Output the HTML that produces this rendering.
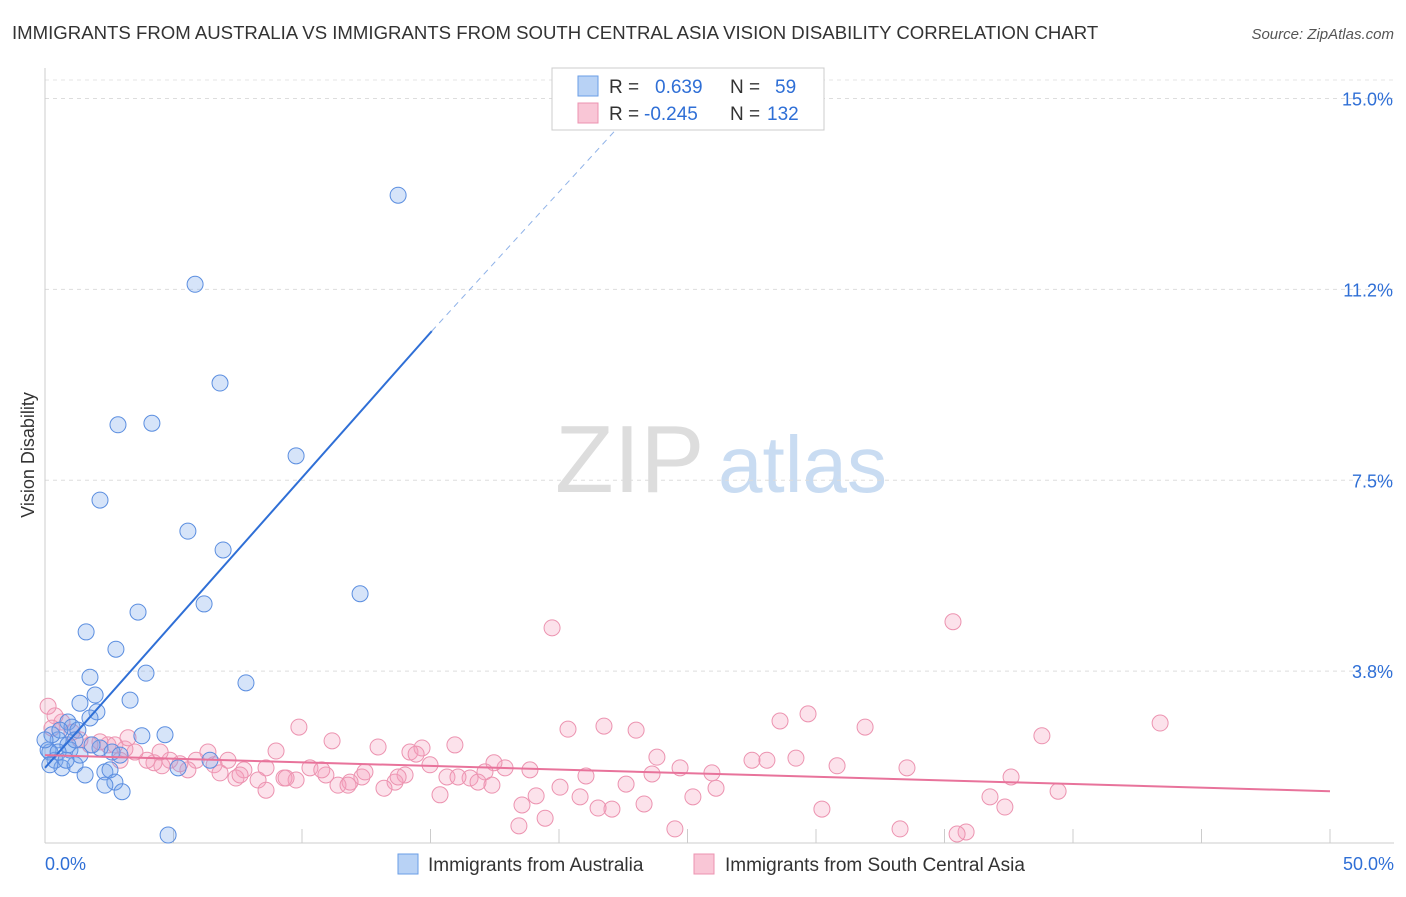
<!DOCTYPE html>
<html><head><meta charset="utf-8">
<style>
body{margin:0;background:#fff;font-family:"Liberation Sans",sans-serif;}
svg text{font-family:"Liberation Sans",sans-serif;}
</style></head>
<body>
<svg id="chart" width="1406" height="892" xmlns="http://www.w3.org/2000/svg">
<text x="12" y="39" font-size="18.6" fill="#333">IMMIGRANTS FROM AUSTRALIA VS IMMIGRANTS FROM SOUTH CENTRAL ASIA VISION DISABILITY CORRELATION CHART</text>
<text x="1394" y="39" font-size="15" fill="#555" font-style="italic" text-anchor="end">Source: ZipAtlas.com</text>
<text x="0" y="0" transform="translate(34,455) rotate(-90)" font-size="18" fill="#333" text-anchor="middle">Vision Disability</text>
<g>
<text x="555" y="492" font-size="96" fill="#ddd" font-family="Liberation Serif,serif">ZIP</text>
<text x="718" y="492" font-size="80" fill="#c9dcf2">atlas</text>
</g>
<g id="grid"></g>
<g id="axes"></g>
<g id="series"></g>
<g>
<rect x="552" y="68" width="272" height="62" fill="#fff" stroke="#ccc"/>
<rect x="578" y="76" width="20" height="20" fill="#b8d2f5" stroke="#6a9ee6"/>
<rect x="578" y="103" width="20" height="20" fill="#f9c6d6" stroke="#ec93b0"/>
<text x="609" y="93" font-size="19" fill="#333">R =</text>
<text x="655" y="93" font-size="19" fill="#2f6fd6">0.639</text>
<text x="730" y="93" font-size="19" fill="#333">N =</text>
<text x="775" y="93" font-size="19" fill="#2f6fd6">59</text>
<text x="609" y="120" font-size="19" fill="#333">R =</text>
<text x="644" y="120" font-size="19" fill="#2f6fd6">-0.245</text>
<text x="730" y="120" font-size="19" fill="#333">N =</text>
<text x="767" y="120" font-size="19" fill="#2f6fd6">132</text>
</g>
<g>
<rect x="398" y="854" width="20" height="20" fill="#b8d2f5" stroke="#6a9ee6"/>
<text x="428" y="871" font-size="19" fill="#333">Immigrants from Australia</text>
<rect x="694" y="854" width="20" height="20" fill="#f9c6d6" stroke="#ec93b0"/>
<text x="725" y="871" font-size="19" fill="#333">Immigrants from South Central Asia</text>
</g>
</svg>
<script>
const yTicks=[3.75,7.5,11.25,15];
const yTickLabels=["3.8%","7.5%","11.2%","15.0%"];
const xTicks=[0,5,10,15,20,25,30,35,40,45,50];
const blueX=[13.74,5.84,6.81,2.84,4.16,9.77,2.14,5.56,6.93,6.19,3.62,12.26,1.60,2.76,3.93,7.82,1.75,1.95,1.36,3.31,2.02,1.75,0.89,1.05,0.51,0.89,0.19,0.39,0.66,1.17,1.56,2.33,2.53,2.72,3.00,2.33,3.77,4.67,5.18,4.79,0.27,0.58,0.12,0.97,0.51,2.14,2.61,1.36,0.82,0,1.83,1.28,2.92,6.42,0.19,1.17];
const blueY=[13.10,11.35,9.41,8.59,8.62,7.98,7.11,6.50,6.13,5.07,4.91,5.27,4.52,4.18,3.71,3.52,3.63,3.28,3.12,3.18,2.95,2.83,2.75,2.65,2.40,2.30,2.16,2.00,1.85,1.91,1.71,1.77,1.81,1.57,1.38,1.51,2.48,2.50,1.85,0.53,2.50,2.59,2.20,2.20,2.16,2.24,2.16,2.10,2.00,2.40,2.30,2.59,2.10,2.00,1.91,2.40];
const pinkX=[19.73,35.33,43.39,29.69,31.91,28.60,21.75,23.00,20.35,38.79,9.88,11.17,12.96,14.20,14.67,15.95,23.81,27.51,29.22,28.09,30.82,33.54,37.59,39.42,36.77,37.35,35.84,35.49,33.27,30.23,26.11,25.21,24.51,23.31,22.06,21.52,20.82,20.04,19.46,18.44,18.56,19.11,17.90,17.47,17.12,16.54,15.37,15.64,14.98,14.01,13.62,13.19,12.33,11.87,11.40,10.93,10.31,9.77,9.30,8.99,8.60,8.29,7.74,7.43,7.12,6.58,6.34,5.88,5.56,5.25,4.86,4.55,4.24,3.97,3.50,3.11,2.92,2.45,2.14,1.75,1.36,1.05,0.66,0.39,0.12,0.27,2.72,3.23,4.48,6.81,7.59,8.60,9.38,10.77,11.79,12.45,13.74,14.44,16.07,16.85,17.39,18.87,21.05,22.61,23.62,24.71,25.95];
const pinkY=[4.60,4.72,2.73,2.91,2.65,2.77,2.67,2.59,2.61,2.48,2.65,2.38,2.26,2.16,2.24,2.30,2.06,2.00,2.04,2.00,1.89,1.85,1.67,1.39,1.28,1.08,0.59,0.55,0.65,1.04,1.45,1.28,0.65,1.14,1.04,1.06,1.28,1.47,0.86,0.71,1.12,1.30,1.85,1.95,1.77,1.65,1.32,1.67,1.91,1.71,1.57,1.45,1.67,1.57,1.51,1.71,1.85,1.61,1.65,2.18,1.85,1.61,1.81,1.65,2.00,1.91,2.16,2.00,1.81,1.93,2.00,1.89,1.95,2.00,2.16,2.22,2.00,2.30,2.36,2.30,2.40,2.55,2.75,2.87,3.06,2.63,2.30,2.44,2.16,1.75,1.71,1.41,1.65,1.81,1.51,1.77,1.67,2.12,1.67,1.57,1.51,1.81,1.69,1.53,1.73,1.85,1.75];
const blueLine=[[0,1.85],[15.05,10.43]];
const blueDash=[[15.05,10.43],[22.6,14.6]];
const pinkLine=[[0,2.10],[50,1.39]];
const NS="http://www.w3.org/2000/svg";
const X=v=>45+v*25.7, Y=v=>862-v*50.9;
function mk(tag,attrs,parent){const e=document.createElementNS(NS,tag);for(const k in attrs)e.setAttribute(k,attrs[k]);document.getElementById(parent).appendChild(e);return e;}
yTicks.forEach((t,i)=>{
 const l=mk('line',{x1:45,x2:1394,y1:Y(t),y2:Y(t),stroke:'#ddd','stroke-dasharray':'4,4'},'grid');
 
 
 const tx=mk('text',{x:1393,y:Y(t)+7,'font-size':18,fill:'#2f6fd6','text-anchor':'end'},'grid');tx.textContent=yTickLabels[i];
 
 
});
const topGrid=mk('line',{x1:45,x2:1394,y1:80,y2:80,stroke:'#e4e4e4','stroke-dasharray':'4,4'},'grid');


const ax=mk('line',{x1:45,x2:1394,y1:843,y2:843,stroke:'#ccc'},'axes');


const ay=mk('line',{x1:45,x2:45,y1:68,y2:843,stroke:'#ccc'},'axes');


xTicks.forEach(t=>{const l=mk('line',{x1:X(t),x2:X(t),y1:829,y2:843,stroke:'#ccc'},'axes');
 
 });
const xl0=mk('text',{x:45,y:870,'font-size':18,fill:'#2f6fd6'},'axes');xl0.textContent=xTicks[0].toFixed(1)+'%';


const xl1=mk('text',{x:1394,y:870,'font-size':18,fill:'#2f6fd6','text-anchor':'end'},'axes');xl1.textContent=xTicks[xTicks.length-1].toFixed(1)+'%';


pinkX.forEach((x,i)=>{const c=mk('circle',{cx:X(x),cy:Y(pinkY[i]),r:8,fill:'rgba(244,160,190,0.3)',stroke:'#ec93b0','stroke-width':1},'series');
 
 });
blueX.forEach((x,i)=>{const c=mk('circle',{cx:X(x),cy:Y(blueY[i]),r:8,fill:'rgba(120,165,235,0.3)',stroke:'#5b8ee0','stroke-width':1},'series');
 
 });
const bl=mk('line',{x1:X(blueLine[0][0]),y1:Y(blueLine[0][1]),x2:X(blueLine[1][0]),y2:Y(blueLine[1][1]),stroke:'#2f6fd6','stroke-width':2},'series');


const bd=mk('line',{x1:X(blueDash[0][0]),y1:Y(blueDash[0][1]),x2:X(blueDash[1][0]),y2:Y(blueDash[1][1]),stroke:'#8fb2e8','stroke-width':1,'stroke-dasharray':'6,5'},'series');


const pl=mk('line',{x1:X(pinkLine[0][0]),y1:Y(pinkLine[0][1]),x2:X(pinkLine[1][0]),y2:Y(pinkLine[1][1]),stroke:'#e8739b','stroke-width':2},'series');


</script>
</body></html>
